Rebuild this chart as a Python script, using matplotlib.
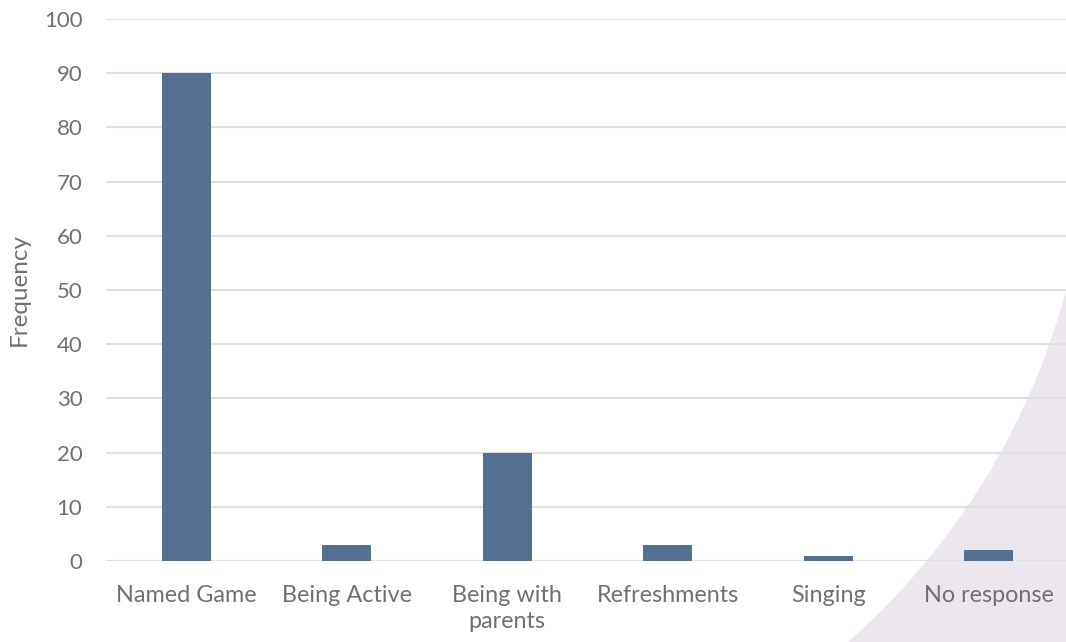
import numpy as np
import matplotlib
matplotlib.use("Agg")
import matplotlib.pyplot as plt
from matplotlib.patches import Polygon

categories = ["Named Game", "Being Active", "Being with\nparents", "Refreshments", "Singing", "No response"]
frequency = [90, 3, 20, 3, 1, 2]
y_ticks = list(range(0, 101, 10))

W, H = 1066, 642
plt.rcParams['font.family'] = ['Lato', 'DejaVu Sans']
fig = plt.figure(figsize=(W / 100, H / 100), dpi=100)

# decorative lilac shape in the lower right corner (arc of a big circle)
cx, cy, r = 378, 107, 712
a0 = np.arctan2(np.sqrt(r**2 - (W - cx)**2), W - cx)
a1 = np.arctan2(H - cy, np.sqrt(r**2 - (H - cy)**2))
ang = np.linspace(a0, a1, 200)
px = cx + r * np.cos(ang)
py = cy + r * np.sin(ang)
pts = np.column_stack([px / W, 1 - py / H])
pts = np.vstack([pts, [[1, 0]]])
fig.patches.append(Polygon(pts, closed=True, transform=fig.transFigure,
                           facecolor="#ECE7EF", edgecolor="none", zorder=-1))

ax = fig.add_axes([106 / W, 1 - 561 / H, (W - 106) / W, (561 - 19) / H])
ax.patch.set_alpha(0)
x = np.arange(len(categories))
ax.bar(x, frequency, width=0.305, color="#557090", zorder=3)
ax.set_xlim(-0.5, 5.48)
ax.set_ylim(0, 100)
ax.set_yticks(y_ticks)
ax.set_xticks(x)
ax.set_xticklabels(categories, fontsize=16.8, color="#707070", linespacing=1.3)
ax.tick_params(axis='y', labelsize=16, labelcolor="#707070", length=0, pad=17)
ax.tick_params(axis='x', length=0, pad=17)
ax.grid(axis='y', color="#E0E0E0", linewidth=1.5, zorder=0)
for s in ax.spines.values():
    s.set_visible(False)
ax.set_ylabel("Frequency", fontsize=17.5, color="#707070", labelpad=10)

fig.savefig("out.png", dpi=100)
